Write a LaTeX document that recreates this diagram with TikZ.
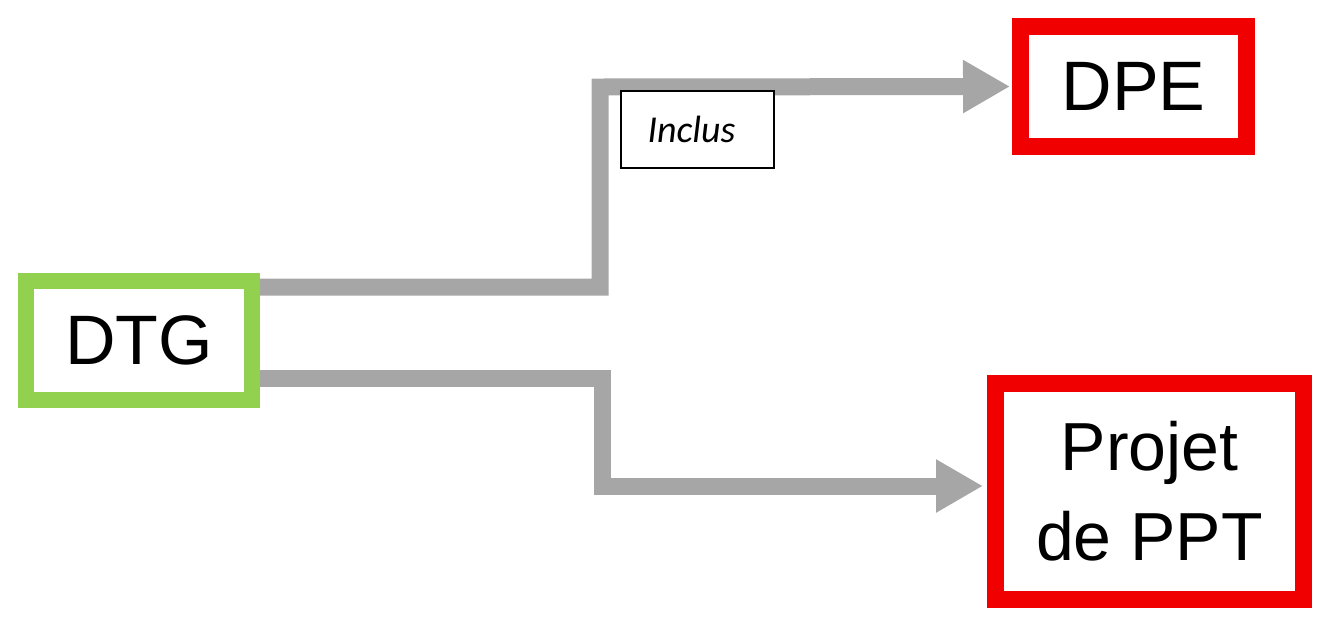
\documentclass[tikz,border=0pt]{standalone}
\usepackage{fontspec}
\setmainfont{Liberation Sans}
\newfontfamily\tagfont{Carlito}
\usetikzlibrary{arrows.meta}
\definecolor{flowgray}{RGB}{166,166,166}
\definecolor{boxgreen}{RGB}{146,208,80}
\definecolor{boxred}{RGB}{240,0,0}
\begin{document}
\begin{tikzpicture}[x=1pt,y=-1pt,
  box/.style={draw, fill=white, inner sep=0pt, align=center,
    font=\fontsize{70}{90}\selectfont},
  srcbox/.style={box, draw=boxgreen, line width=16pt},
  dstbox/.style={box, draw=boxred, line width=17pt},
  flow/.style={draw=flowgray, line width=17pt,
    -{Triangle[length=47pt,width=50pt]}},
  tagbox/.style={draw=black, fill=white, line width=1.5pt, inner sep=0pt,
    minimum width=153pt, minimum height=77pt,
    font=\tagfont\itshape\fontsize{38}{40}\selectfont}]
\useasboundingbox (0,0) rectangle (1317,622);

% boxes
\node[srcbox, minimum width=226pt, minimum height=119pt] (dtg) at (139,340.5) {DTG};
\node[dstbox, minimum width=226pt, minimum height=120pt] (dpe) at (1133.5,86.5) {DPE};
\node[dstbox, minimum width=308pt, minimum height=216pt,
      font=\fontsize{68}{90}\selectfont] (ppt) at (1149.5,491.5) {Projet\\de PPT};

% bend points of the two flows
\coordinate (up) at (600,87);
\coordinate (down) at (602,486);

% flows
\draw[flow, shorten >=2pt] ([yshift=53.5pt]dtg.east) -| (up) -- (dpe.west);
\draw[flow, shorten >=4pt] ([yshift=-37.5pt]dtg.east) -| (down) -- ([yshift=5.5pt]ppt.west);

% label on the upper flow
\node[tagbox] (inclus) at (697.5,129.5) {\hspace*{-12pt}Inclus};
\end{tikzpicture}
\end{document}
